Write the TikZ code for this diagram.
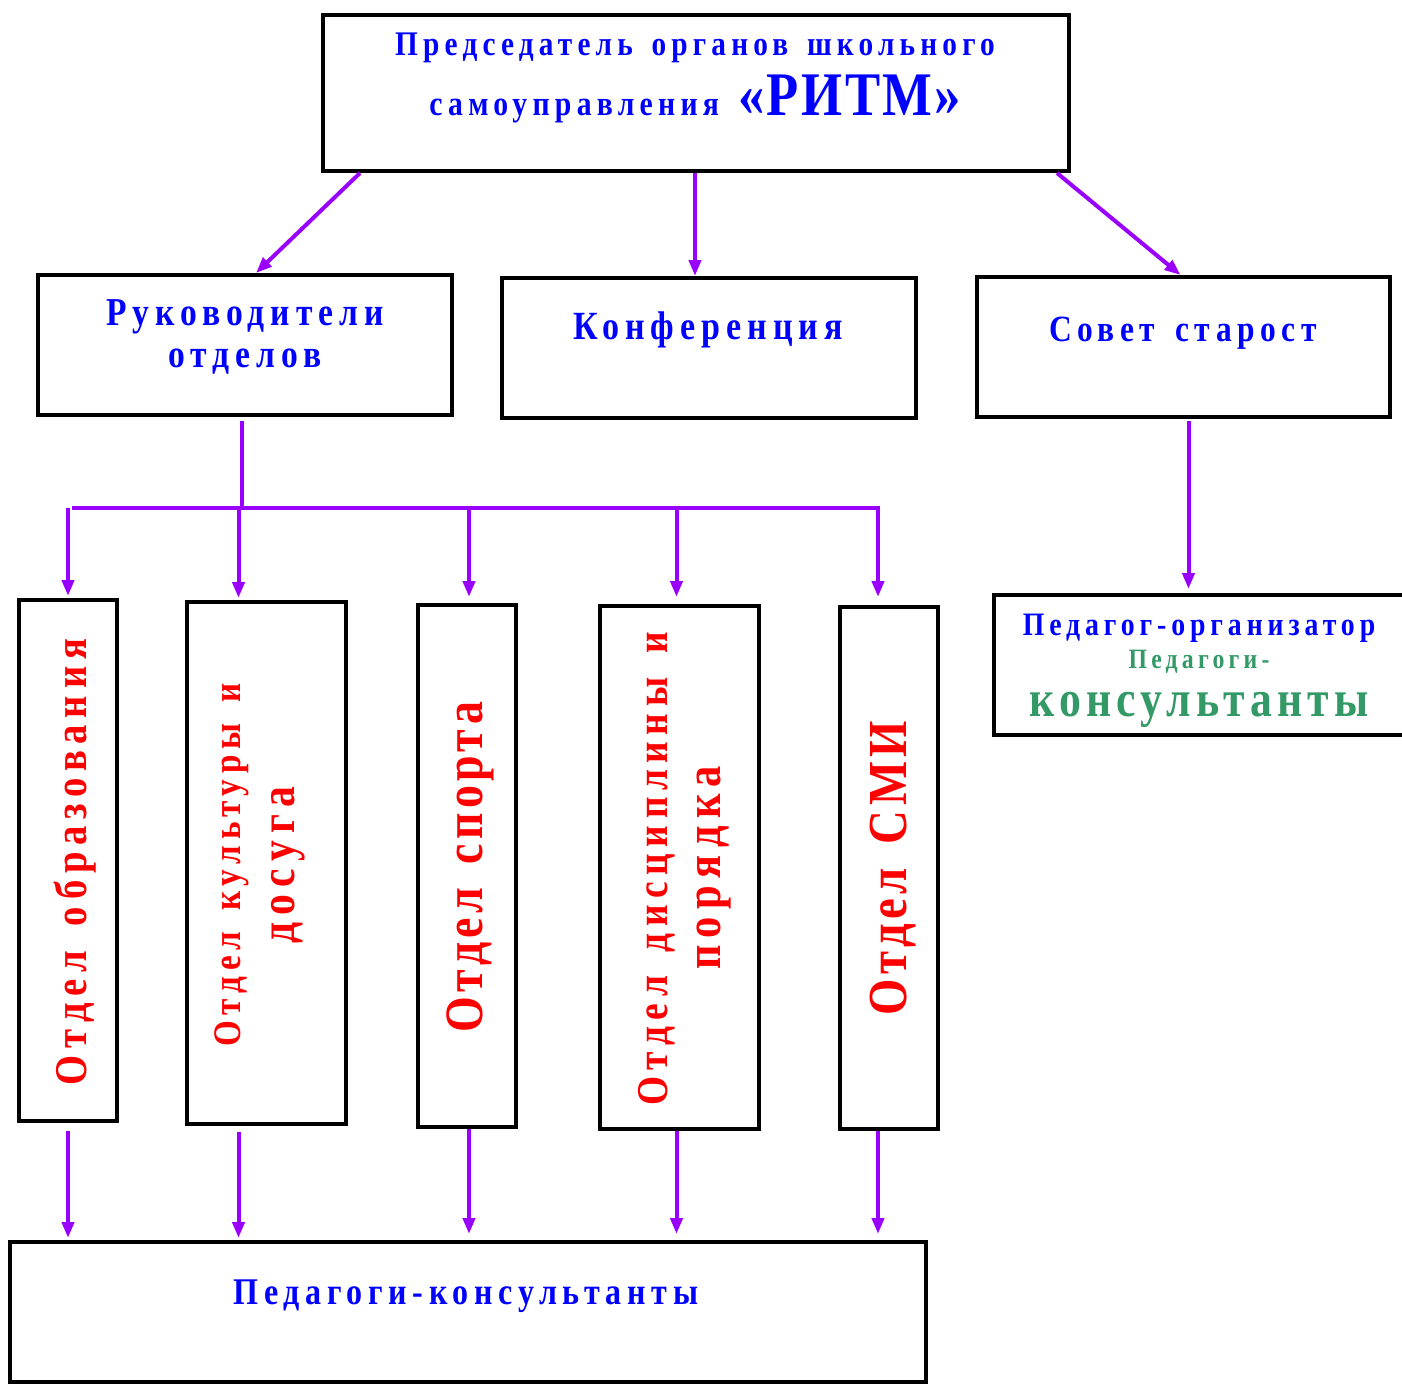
\documentclass[tikz,border=0pt]{standalone}
\usepackage{fontspec}
\setmainfont{Liberation Serif}[FakeStretch=0.85,LetterSpace=15,WordSpace=1.5]
\usetikzlibrary{arrows.meta}
\definecolor{violet}{HTML}{9900FF}
\definecolor{sea}{HTML}{339966}
\newcommand{\fs}[1]{\fontsize{#1}{#1}\selectfont}

\begin{document}
\begin{tikzpicture}[x=1pt,y=-1pt,
    box/.style={draw=black,line width=4pt,inner sep=0pt},
    arr/.style={violet,line width=4pt,-{Triangle[length=16pt,width=12pt]}},
    conn/.style={violet,line width=4pt},
    bl/.style={blue,font=\bfseries},
    rd/.style={red,font=\bfseries,rotate=90,align=center}]
\useasboundingbox (0,0) rectangle (1402,1384);
% boxes
\node[box,minimum width=746pt,minimum height=156pt] (top) at (696,93) {};
\node[box,minimum width=414pt,minimum height=140pt] (ruk) at (245,345) {};
\node[box,minimum width=414pt,minimum height=140pt] (konf) at (709,348) {};
\node[box,minimum width=413pt,minimum height=140pt] (sovet) at (1183.5,347) {};
\node[box,minimum width=410pt,minimum height=140pt] (pedorg) at (1199,665) {};
\node[box,minimum width=916pt,minimum height=140pt] (ped) at (468,1312) {};
\node[box,minimum width=98pt,minimum height=521pt] (v1) at (68,860.5) {};
\node[box,minimum width=159pt,minimum height=522pt] (v2) at (266.5,863) {};
\node[box,minimum width=98pt,minimum height=522pt] (v3) at (467,866) {};
\node[box,minimum width=159pt,minimum height=523pt] (v4) at (679.5,867.5) {};
\node[box,minimum width=98pt,minimum height=522pt] (v5) at (889,868) {};
% texts
\node[bl] (t1) at (695,48) {\fs{34.5}Председатель органов школьного};
\node[bl] (t2) at (695,99) {\fs{35}самоуправления {\fs{62}\addfontfeature{LetterSpace=4}«РИТМ»}};
\node[bl,align=center,font=\bfseries\fs{39.5}] (truk) at (245,337) {Руководители\\[2pt]отделов};
\node[bl] (tkonf) at (708,330) {\fs{40}Конференция};
\node[bl] (tsovet) at (1183,333) {\fs{37}Совет старост};
\node[bl] (tpedorg) at (1199,628) {\fs{32.7}Педагог-организатор};
\node[sea,font=\bfseries] (tkons1) at (1199,662) {\fs{28}Педагоги-};
\node[sea,font=\bfseries] (tkons2) at (1199,710) {\fs{51.5}\addfontfeature{LetterSpace=10}консультанты};
\node[bl] (tped) at (466,1296) {\fs{37.7}Педагоги-консультанты};
\node[rd] (tv1) at (75,862) {\fs{45.5}Отдел образования};
\node[rd] (tv2a) at (232,865) {\fs{39}Отдел культуры и};
\node[rd] (tv2b) at (288,865) {\fs{49}досуга};
\node[rd] (tv3) at (470,867) {\fs{54}\addfontfeature{LetterSpace=8}Отдел спорта};
\node[rd] (tv4a) at (657,869) {\fs{44}Отдел дисциплины и};
\node[rd] (tv4b) at (714,868) {\fs{50}порядка};
\node[rd] (tv5) at (893,868) {\fs{55}\addfontfeature{LetterSpace=8}Отдел СМИ};
% connectors
\coordinate (barL) at (72,508);
\coordinate (barR) at (880,508);
\draw[arr] ([xshift=39pt]top.south west) -- ([xshift=220pt]ruk.north west);
\draw[arr] ([xshift=-1pt]top.south) -- ([xshift=-1pt]top.south |- konf.north);
\draw[arr] ([xshift=-14pt]top.south east) -- ([xshift=-3pt]sovet.north);
\draw[conn] ([xshift=-3pt,yshift=-4pt]ruk.south) -- ([xshift=-3pt]ruk.south |- barL);
\draw[conn] (barL) -- (barR);
\draw[arr] (v1.north |- barL) -- ([yshift=2pt]v1.north);
\draw[arr] ([xshift=-28pt]v2.north |- barL) -- ([xshift=-28pt,yshift=2pt]v2.north);
\draw[arr] ([xshift=2pt]v3.north |- barL) -- ([xshift=2pt,yshift=6pt]v3.north);
\draw[arr] ([xshift=-3pt]v4.north |- barL) -- ([xshift=-3pt,yshift=7pt]v4.north);
\draw[arr] ([xshift=-11pt]v5.north |- barL) -- ([xshift=-11pt,yshift=8pt]v5.north);
\draw[arr] ([yshift=-8pt]v1.south) -- ([yshift=2pt]v1.south |- ped.north);
\draw[arr] ([xshift=-28pt,yshift=-6pt]v2.south) -- ([xshift=-28pt,yshift=2pt]v2.south |- ped.north);
\draw[arr] ([xshift=2pt]v3.south) -- ([xshift=2pt,yshift=6pt]v3.south |- ped.north);
\draw[arr] ([xshift=-3pt]v4.south) -- ([xshift=-3pt,yshift=6pt]v4.south |- ped.north);
\draw[arr] ([xshift=-11pt]v5.south) -- ([xshift=-11pt,yshift=6pt]v5.south |- ped.north);
\draw[arr] ([xshift=5pt,yshift=-2pt]sovet.south) -- ([xshift=5pt,yshift=4pt]sovet.south |- pedorg.north);
\end{tikzpicture}
\end{document}
